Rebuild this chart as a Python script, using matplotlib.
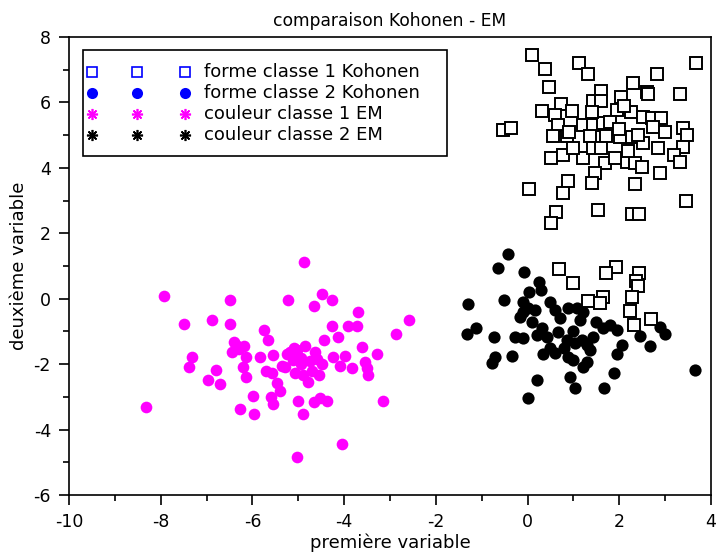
import numpy as np
import matplotlib
matplotlib.use("Agg")
import matplotlib.pyplot as plt
from matplotlib.patches import Rectangle
from matplotlib.ticker import MultipleLocator

plt.rcParams['font.family'] = ['DejaVu Sans']
plt.rcParams['axes.unicode_minus'] = False

# Class 1 (EM colour magenta, Kohonen shape circle)
mag_x = [-4.87, -7.93, -6.49, -5.22, -4.48, -4.26, -4.65, -7.49, -6.88, -6.49,
         -3.69, -2.59, -2.87, -4.26, -3.91, -3.72, -4.13, -4.44, -5.74, -5.65,
         -6.40, -6.18, -6.45, -6.13, -5.84, -5.54, -5.18, -5.03, -4.85, -4.64,
         -5.11, -4.93, -7.31, -7.38, -6.79, -6.96, -6.71, -6.21, -6.14, -5.36,
         -5.58, -5.47, -5.40, -5.07, -4.89, -4.78, -4.49, -4.54, -4.24, -4.09,
         -3.98, -3.82, -3.60, -3.29, -3.55, -3.51, -3.47, -3.16, -5.99, -6.27,
         -5.96, -5.60, -5.56, -5.00, -4.66, -4.53, -4.38, -4.90, -8.32, -4.04,
         -5.03, -5.25, -5.10, -4.95, -4.75, -4.70, -5.30, -4.60, -5.70, -6.30,
         -6.35]
mag_y = [1.11, 0.08, -0.05, -0.05, 0.14, -0.05, -0.23, -0.78, -0.66, -0.78,
         -0.41, -0.66, -1.09, -0.84, -0.84, -0.84, -1.16, -1.26, -0.96, -1.26,
         -1.31, -1.45, -1.62, -1.77, -1.77, -1.72, -1.62, -1.57, -1.45, -1.62,
         -1.88, -1.82, -1.79, -2.08, -2.18, -2.49, -2.62, -2.08, -2.38, -2.06,
         -2.28, -2.59, -2.81, -2.28, -2.33, -2.54, -2.00, -2.33, -1.79, -2.06,
         -1.75, -2.13, -1.49, -1.70, -1.93, -2.13, -2.33, -3.12, -2.98, -3.38,
         -3.53, -3.00, -3.23, -3.12, -3.17, -3.02, -3.12, -3.53, -3.30, -4.45,
         -4.83, -1.70, -1.50, -2.00, -1.90, -2.20, -2.10, -1.85, -2.20, -1.55,
         -1.40]

# Class 2 EM (black), Kohonen class 1 shape (open square)
sq_x = [0.09, 0.37, 1.12, 1.31, 3.67, 2.82, 0.47, 2.30, 2.60, 2.63,
        1.61, 3.32, 0.31, 0.73, 0.96, 1.43, 1.61, 2.04, 1.94, 2.25,
        2.52, 2.71, 2.92, -0.53, -0.35, 0.60, 0.67, 0.56, 0.85, 1.21,
        1.43, 1.65, 1.36, 1.72, 2.01, 2.27, 2.52, 2.74, 3.00, 3.40,
        3.47, 3.40, 3.19, 3.32, 2.85, 0.52, 0.78, 1.21, 1.43, 1.69,
        1.47, 1.40, 2.16, 2.34, 2.49, 2.89, 0.89, 0.78, 0.04, 2.34,
        3.45, 1.54, 2.27, 2.44, 0.63, 0.52, 1.80, 2.00, 1.60, 2.20,
        1.00, 0.90, 2.10, 1.40, 1.90, 2.40,
        0.69, 1.00, 1.92, 1.70, 2.44, 2.36, 2.41, 1.32, 1.65, 1.58,
        2.27, 2.23, 2.32, 2.70]
sq_y = [7.45, 7.02, 7.21, 6.87, 7.20, 6.86, 6.46, 6.60, 6.33, 6.25,
        6.35, 6.26, 5.75, 5.95, 5.75, 6.05, 6.05, 6.17, 5.77, 5.72,
        5.56, 5.51, 5.51, 5.16, 5.21, 5.62, 5.31, 4.97, 4.97, 5.31,
        5.31, 5.38, 4.97, 4.97, 4.95, 4.95, 4.75, 5.26, 5.10, 5.21,
        5.00, 4.65, 4.39, 4.19, 4.60, 4.29, 4.39, 4.29, 4.60, 4.14,
        3.83, 3.55, 4.19, 4.14, 4.04, 3.83, 3.60, 3.24, 3.34, 3.50,
        2.99, 2.71, 2.58, 2.58, 2.66, 2.30, 5.40, 5.20, 4.60, 4.50,
        4.60, 5.10, 5.90, 5.70, 4.30, 5.00,
        0.91, 0.47, 0.96, 0.80, 0.78, 0.55, 0.39, -0.06, 0.06, -0.14,
        0.04, -0.38, -0.80, -0.63]

# Class 2 EM (black), Kohonen class 2 shape (filled circle)
blk_x = [-0.42, -0.64, -0.07, 0.25, 0.29, 0.03, -1.29, -0.51, -0.09, 0.02,
         -0.17, 0.16, 0.09, 0.49, 0.60, 0.89, 1.07, 1.21, 1.14, -1.33,
         -1.12, -0.73, -0.27, -0.11, 0.31, 0.42, 0.67, 0.85, 1.03, 1.18,
         1.43, 1.65, 1.80, 1.94, 2.05, 1.94, 2.45, 2.68, 2.89, 3.00,
         -0.78, -0.71, -0.33, 0.33, 0.60, 0.89, 1.00, 1.29, 1.36, 1.21,
         1.88, 3.65, 0.20, 0.92, 1.03, 1.67, 0.02, 0.70, 1.00, 1.30,
         0.50, 0.80, 1.50, -0.10, 0.20]
blk_y = [1.37, 0.93, 0.81, 0.52, 0.27, 0.21, -0.16, -0.04, -0.09, -0.29,
         -0.55, -0.35, -0.70, -0.09, -0.35, -0.29, -0.29, -0.40, -0.65, -1.08,
         -0.91, -1.16, -1.18, -1.21, -0.91, -1.18, -1.01, -1.26, -1.36, -1.26,
         -1.16, -0.91, -0.80, -0.96, -1.42, -1.69, -1.15, -1.45, -0.86, -1.08,
         -1.98, -1.77, -1.75, -1.69, -1.67, -1.77, -1.88, -1.93, -1.57, -2.08,
         -2.26, -2.18, -2.49, -2.38, -2.74, -2.74, -3.05, -0.60, -1.00, -1.40,
         -1.50, -1.50, -0.70, -0.40, -1.10]

legend_labels = ["forme classe 1 Kohonen", "forme classe 2 Kohonen",
                 "couleur classe 1 EM", "couleur classe 2 EM"]
legend_styles = [
    dict(marker='s', markerfacecolor='none', markeredgecolor='blue',
         markersize=7, markeredgewidth=1.2),
    dict(marker='o', color='blue', markersize=8, markeredgewidth=0),
    dict(marker=(8, 2, 0), color='#ff00ff', markersize=8, markeredgewidth=1.2),
    dict(marker=(8, 2, 0), color='black', markersize=8, markeredgewidth=1.2),
]

fig = plt.figure(figsize=(7.17, 5.56), dpi=100)
ax = fig.add_axes([0.0962, 0.1097, 0.8954, 0.8238])

ax.plot(mag_x, mag_y, 'o', color='#ff00ff', markersize=8.4, markeredgewidth=0)
ax.plot(blk_x, blk_y, 'o', color='black', markersize=8.8, markeredgewidth=0)
ax.plot(sq_x, sq_y, 's', markerfacecolor='white', markeredgecolor='black',
        markersize=8.2, markeredgewidth=1.4)

ax.set_xlim(-10, 4)
ax.set_ylim(-6, 8)
ax.xaxis.set_major_locator(MultipleLocator(2))
ax.xaxis.set_minor_locator(MultipleLocator(1))
ax.yaxis.set_major_locator(MultipleLocator(2))
ax.yaxis.set_minor_locator(MultipleLocator(1))
ax.tick_params(which='major', direction='out', length=7, width=1.2,
               labelsize=12.5, pad=6)
ax.tick_params(which='minor', direction='out', length=4, width=1.2)
for s in ax.spines.values():
    s.set_linewidth(1.2)

ax.set_xlabel("première variable", fontsize=13, labelpad=2)
ax.set_ylabel("deuxième variable", fontsize=13, labelpad=4)
ax.set_title("comparaison Kohonen - EM", fontsize=12.3, pad=8)

# Legend box drawn in axes coordinates: three markers per entry, then the label
box_left, box_right, box_top, box_bottom = 0.0218, 0.5888, 0.9716, 0.7402
ax.add_patch(Rectangle((box_left, box_bottom), box_right - box_left,
                       box_top - box_bottom, transform=ax.transAxes,
                       facecolor='white', edgecolor='black', linewidth=1.2,
                       zorder=5))
marker_cols = [0.0358, 0.1059, 0.1807]
text_col = 0.2103
row_top, row_step = 0.9236, 0.0459
for i, (label, style) in enumerate(zip(legend_labels, legend_styles)):
    yy = row_top - i * row_step
    ax.plot(marker_cols, [yy] * 3, linestyle='none', transform=ax.transAxes,
            zorder=6, clip_on=False, **style)
    ax.text(text_col, yy, label, transform=ax.transAxes, fontsize=13,
            va='center', ha='left', zorder=6)

fig.savefig("out.png", dpi=100)
